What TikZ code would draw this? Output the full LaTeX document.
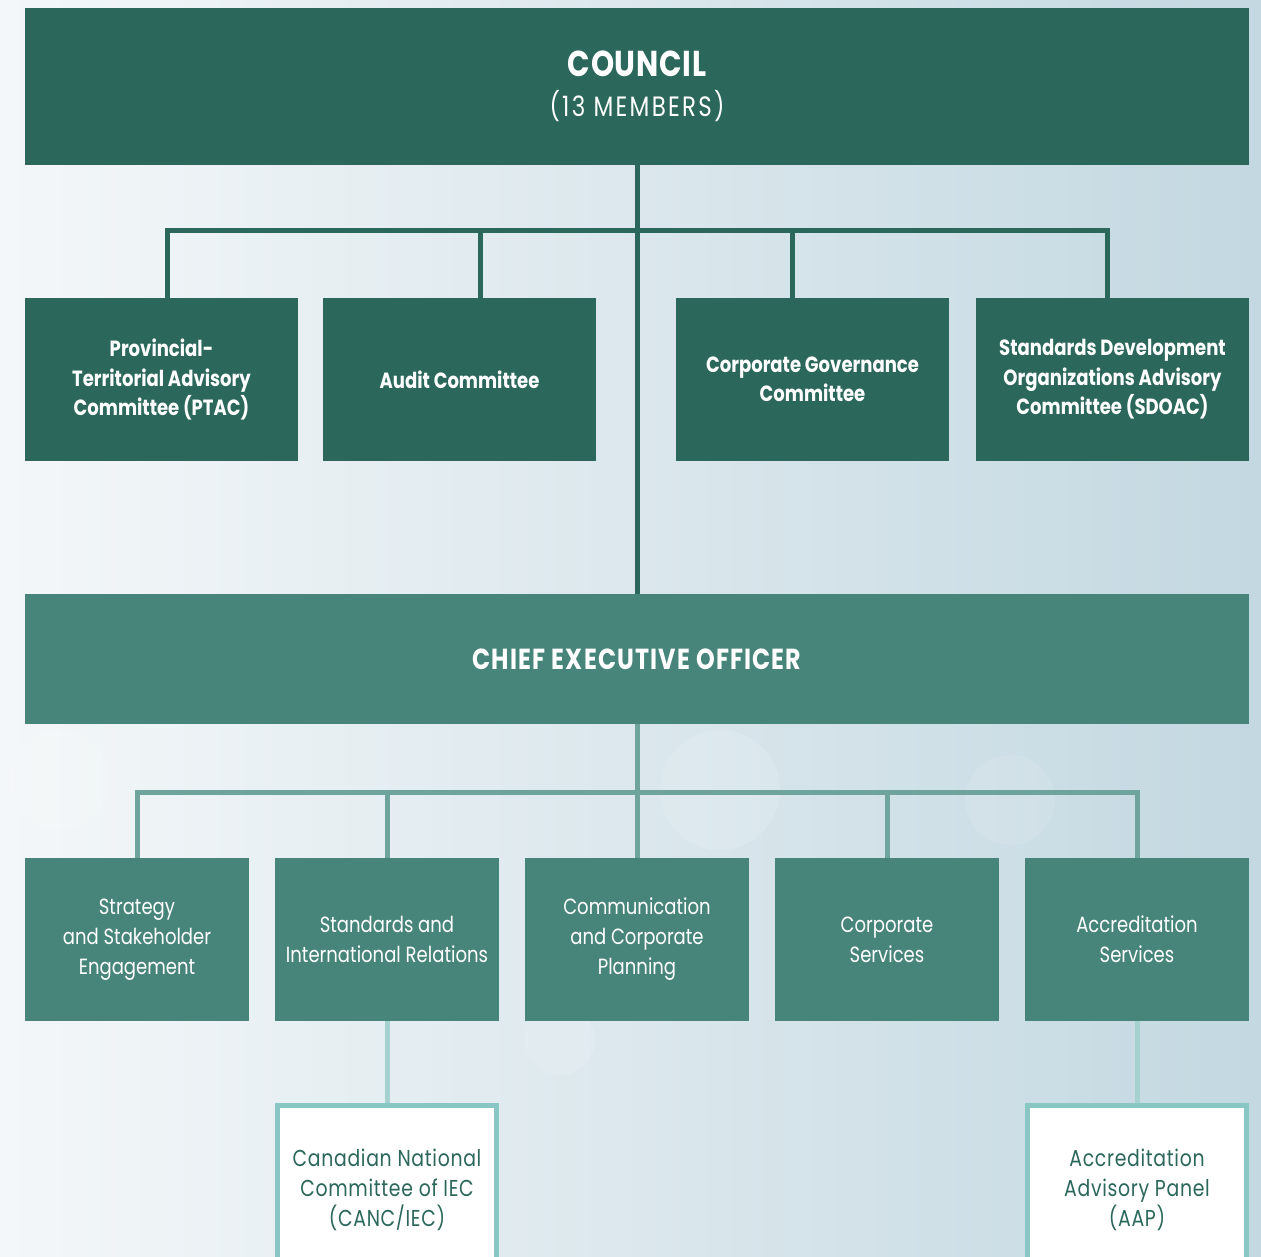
\documentclass[tikz,border=0pt]{standalone}
\usepackage{fontspec}
\setmainfont{Poppins}[FakeStretch=0.82]
\usepackage{tikz}
\usetikzlibrary{positioning,calc}

\definecolor{darkteal}{HTML}{2B675B}
\definecolor{midteal}{HTML}{47847A}
\definecolor{busteal}{HTML}{6FA49D}
\definecolor{paleteal}{HTML}{A5D2CF}
\definecolor{rimteal}{HTML}{8AC6C3}
\definecolor{bgleft}{HTML}{F4F7F9}
\definecolor{bgright}{HTML}{C3D8E1}

\begin{document}
\begin{tikzpicture}[x=0.5pt,y=-0.5pt,
    board/.style={fill=darkteal, text=white, minimum width=612pt, minimum height=78.5pt, align=center},
    committee/.style={fill=darkteal, text=white, minimum width=136.5pt, minimum height=81.5pt,
      align=center, font=\bfseries\fontsize{11}{14.75}\selectfont},
    ceo/.style={fill=midteal, text=white, minimum width=612pt, minimum height=65pt,
      font=\bfseries\fontsize{14.5}{17}\selectfont\addfontfeatures{LetterSpace=4}},
    dept/.style={fill=midteal, text=white, minimum width=112pt, minimum height=81.5pt,
      align=center, font=\fontsize{11}{15}\selectfont},
    subpanel/.style={fill=white, draw=rimteal, line width=2.5pt, text=darkteal, minimum width=109.5pt,
      minimum height=84pt, align=center, font=\fontsize{11.5}{15}\selectfont\addfontfeatures{LetterSpace=3}},
    topline/.style={draw=darkteal, line width=2.5pt},
    deptline/.style={draw=busteal, line width=2.5pt},
    subline/.style={draw=paleteal, line width=2.5pt}]

    \useasboundingbox (0,0) rectangle (1261,1256);

    % Background
    \shade[left color=bgleft, right color=bgright] (0,0) rectangle (1261,1256);
    \fill[white, opacity=0.12] (60,780) circle (50);
    \fill[white, opacity=0.12] (720,790) circle (60);
    \fill[white, opacity=0.1] (1010,800) circle (45);
    \fill[white, opacity=0.12] (560,1040) circle (35);

    % Council and CEO
    \node[board] (council) at (637,86.5)
      {{\bfseries\fontsize{18}{21}\selectfont\addfontfeatures{LetterSpace=2}COUNCIL}\\[6pt]
       {\fontsize{14}{16}\selectfont\addfontfeatures{LetterSpace=8}(13 MEMBERS)}};
    \node[ceo] (ceo) at (637,659) {CHIEF EXECUTIVE OFFICER};

    % Committees of council
    \node[committee] (ptac) at (161.5,379.5) {Provincial-\\Territorial Advisory\\Committee (PTAC)};
    \node[committee] (audit) at (459.5,379.5) {Audit Committee};
    \node[committee] (cgc) at (812.5,379.5) {Corporate Governance\\Committee};
    \node[committee] (sdoac) at (1112.5,379.5) {Standards Development\\Organizations Advisory\\Committee (SDOAC)};

    % Departments
    \node[dept] (strategy) at (137,939.5) {Strategy\\and Stakeholder\\Engagement};
    \node[dept] (sir) at (387,939.5) {Standards and\\International Relations};
    \node[dept] (comms) at (637,939.5) {Communication\\and Corporate\\Planning};
    \node[dept] (corp) at (887,939.5) {Corporate\\Services};
    \node[dept] (accred) at (1137,939.5) {Accreditation\\Services};

    % Panels
    \node[subpanel] (canc) at (387,1189.5) {Canadian National\\Committee of IEC\\(CANC/IEC)};
    \node[subpanel] (aap) at (1137,1189.5) {Accreditation\\Advisory Panel\\(AAP)};

    % Lines
    \coordinate (busA) at (637,231);
    \coordinate (busB) at (637,792);
    \draw[topline] (council.south) -- (ceo.north);
    \draw[topline] ([xshift=2.75pt]ptac.north) |- (busA) -| ([xshift=-2.75pt]sdoac.north);
    \draw[topline] ([xshift=10.25pt]audit.north) -- ([xshift=10.25pt]audit.north |- busA);
    \draw[topline] ([xshift=-10.25pt]cgc.north) -- ([xshift=-10.25pt]cgc.north |- busA);

    \draw[deptline] (ceo.south) -- (comms.north);
    \draw[deptline] (strategy.north) |- (busB) -| (accred.north);
    \draw[deptline] (sir.north) -- (sir.north |- busB);
    \draw[deptline] (corp.north) -- (corp.north |- busB);

    \draw[subline] (sir.south) -- (canc.north);
    \draw[subline] (accred.south) -- (aap.north);
\end{tikzpicture}
\end{document}
